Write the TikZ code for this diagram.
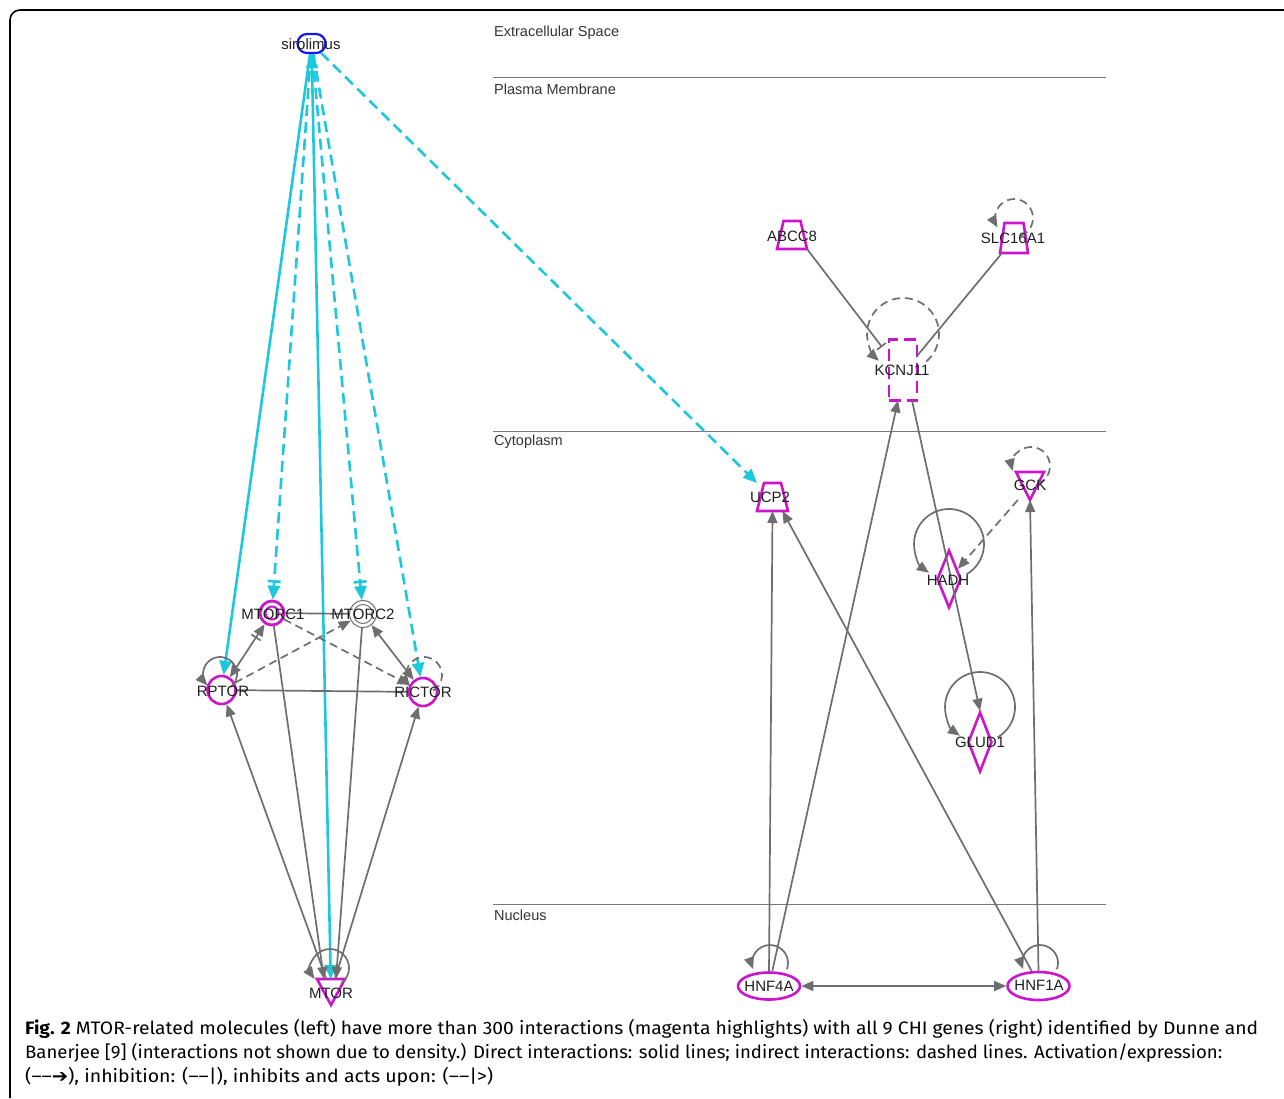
\documentclass[tikz,border=0pt]{standalone}
\usepackage{fontspec}
\usepackage{graphicx}
\setmainfont{Liberation Sans}
\newfontfamily\capfont{Fira Sans}
\newfontfamily\symfont{DejaVu Sans}
\usetikzlibrary{arrows.meta,shapes.geometric,shapes.misc}
\definecolor{magc}{RGB}{204,20,204}
\definecolor{cyanc}{RGB}{30,200,220}
\definecolor{edgegray}{RGB}{110,110,110}
\definecolor{sirblue}{RGB}{20,20,230}
\definecolor{compgray}{RGB}{120,120,120}
\definecolor{captext}{RGB}{35,31,32}
\newsavebox\capboxA
\newsavebox\capboxB
\newsavebox\capboxC
\newlength\capw
\newcommand\capA{\textbf{Fig. 2} MTOR-related molecules (left) have more than 300 interactions (magenta highlights) with all 9 CHI genes (right) identified by Dunne and}
\newcommand\capB{Banerjee [9] (interactions not shown due to density.) Direct interactions: solid lines; indirect interactions: dashed lines. Activation/expression:}
\newcommand\capC{(––{\symfont\bfseries ➔}), inhibition: (––|), inhibits and acts upon: (––|>)}
\tikzset{
  lbl/.style={font=\fontsize{15}{17}\selectfont, text=black!88, inner sep=0},
  comp/.style={font=\fontsize{14.5}{16}\selectfont, text=black!80, inner sep=0, anchor=west},
  gr/.style={draw=edgegray, line width=1.7pt},
  cy/.style={draw=cyanc, line width=2.6pt},
  mg/.style={draw=magc, line width=2.6pt},
  shp/.style={rectangle, inner sep=0, outer sep=0},
  gdash/.style={dash pattern=on 8pt off 5pt},
  cdash/.style={dash pattern=on 11pt off 6pt},
  ga/.style={-{Triangle[length=12pt,width=10pt]}},
  gba/.style={{Triangle[length=12pt,width=10pt]}-{Triangle[length=12pt,width=10pt]}},
  gia/.style={{Triangle[length=12pt,width=10pt]}-{Bar[width=11pt,sep=3pt]Triangle[length=12pt,width=10pt]}},
  gbar/.style={-{Bar[width=11pt]}},
  ca/.style={-{Triangle[length=14pt,width=12pt]}},
  cba/.style={{Triangle[length=14pt,width=12pt]}-{Triangle[length=14pt,width=12pt]}},
  cia/.style={-{Bar[width=13pt,sep=3pt]Triangle[length=14pt,width=12pt]}},
  capt/.style={anchor=base west, inner sep=0, text=captext}
}
\begin{document}
\sbox\capboxA{\capfont\fontsize{18}{22}\selectfont\capA}%
\setlength\capw{\wd\capboxA}%
\pgfmathsetmacro\capscA{1233/\capw}%
\sbox\capboxB{\capfont\fontsize{18}{22}\selectfont\capB}%
\setlength\capw{\wd\capboxB}%
\pgfmathsetmacro\capscB{1197/\capw}%
\sbox\capboxC{\capfont\fontsize{18}{22}\selectfont\capC}%
\setlength\capw{\wd\capboxC}%
\pgfmathsetmacro\capscC{468/\capw}%
\begin{tikzpicture}[x=1pt,y=-1pt]
\useasboundingbox (0,0) rectangle (1284,1098);

% frame
\draw[line width=1.6pt, rounded corners=10pt] (1284,10) -- (10,10) -- (10,1098);

% compartments
\draw[compgray, line width=1pt] (493,77) -- (1106,77);
\draw[compgray, line width=1pt] (493,431) -- (1106,431);
\draw[compgray, line width=1pt] (493,904) -- (1106,904);
\node[comp] (cExtra) at (494,33) {Extracellular Space};
\node[comp] (cPlasma) at (494,89) {Plasma Membrane};
\node[comp] (cCyto) at (494,442) {Cytoplasm};
\node[comp] (cNuc) at (494,915) {Nucleus};

% shape nodes
\node[rounded rectangle, draw=sirblue, line width=2.2pt, minimum width=28pt, minimum height=19pt, inner sep=0] (sir) at (311.5,43.5) {};
\node[circle, draw=magc, line width=2.8pt, minimum size=24pt, inner sep=0] (mtorc1) at (272,613) {};
\node[circle, draw=magc, line width=2pt, minimum size=13pt, inner sep=0] (mtorc1i) at (272,613) {};
\node[circle, draw=edgegray, line width=1pt, minimum size=27pt, inner sep=0] (mtorc2) at (363,614) {};
\node[circle, draw=edgegray, line width=1pt, minimum size=19pt, inner sep=0] (mtorc2i) at (363,614) {};
\node[circle, mg, minimum size=28pt, inner sep=0] (rptor) at (221.5,690) {};
\node[circle, mg, minimum size=28pt, inner sep=0] (rictor) at (423,692) {};
\node[shp, minimum width=28pt, minimum height=26pt] (mtor) at (331,992) {};
\draw[mg] (mtor.north west) -- (mtor.north east) -- (mtor.south) -- cycle;

\node[shp, minimum width=30pt, minimum height=28pt] (abcc8) at (792,235) {};
\draw[mg] (abcc8.south west) -- (abcc8.south east) -- ([xshift=-6.5pt]abcc8.north east) -- ([xshift=6.5pt]abcc8.north west) -- cycle;
\node[shp, minimum width=28pt, minimum height=30pt] (slc) at (1014,238) {};
\draw[mg] (slc.south west) -- (slc.south east) -- ([xshift=-4.5pt]slc.north east) -- ([xshift=4.5pt]slc.north west) -- cycle;
\node[shp, draw=magc, line width=2.6pt, dash pattern=on 12pt off 6pt, minimum width=28pt, minimum height=61pt] (kcnj11) at (903,370) {};
\node[shp, minimum width=31pt, minimum height=28pt] (ucp2) at (772.5,497) {};
\draw[mg] (ucp2.south west) -- (ucp2.south east) -- ([xshift=-7pt]ucp2.north east) -- ([xshift=7pt]ucp2.north west) -- cycle;
\node[shp, minimum width=28pt, minimum height=28pt] (gck) at (1030,486) {};
\draw[mg] (gck.north west) -- (gck.north east) -- (gck.south) -- cycle;
\node[diamond, mg, aspect=0.41, minimum width=24pt, minimum height=58pt, inner sep=0] (hadh) at (949,579) {};
\node[diamond, mg, aspect=0.4, minimum width=24pt, minimum height=60pt, inner sep=0] (glud1) at (980,742) {};
\node[ellipse, mg, minimum width=62pt, minimum height=27pt, inner sep=0] (hnf4a) at (769,986) {};
\node[ellipse, mg, minimum width=62pt, minimum height=28pt, inner sep=0] (hnf1a) at (1038.5,986) {};

% cyan edges from sirolimus
\draw[cy, ca] (sir) -- (rptor);
\draw[cy, cdash, cia] (sir) -- (mtorc1);
\draw[cy, cba] (sir) -- (mtor);
\draw[cy, cdash, cia] (sir) -- (mtorc2);
\draw[cy, cdash, ca] (sir) -- (rictor);
\draw[cy, cdash, ca] (sir) -- (ucp2.north west);

% gray edges left cluster
\draw[gr] (mtorc1) -- (mtorc2);
\draw[gr, gia] (rptor) -- (mtorc1);
\draw[gr, gdash, ga] (rptor) -- (mtorc2);
\draw[gr, gdash, ga] (mtorc1) -- (rictor);
\draw[gr, gba] (mtorc2) -- (rictor);
\draw[gr] (rptor) -- (rictor);
\draw[gr, ga] (mtor) -- (rptor);
\draw[gr, ga] (mtor) -- (rictor);
\draw[gr, ga] (mtorc1) -- ([xshift=-7pt]mtor.north);
\draw[gr, ga] (mtorc2) -- ([xshift=5pt]mtor.north);

% self loops left
\draw[gr, ga] ([shift={(50:17)}]220,674) arc[start angle=50, end angle=-222, radius=17];
\draw[gr, gdash, ga] ([shift={(60:18)}]424,675) arc[start angle=60, end angle=-220, radius=18];
\draw[gr, ga] ([shift={(55:19)}]330,968) arc[start angle=55, end angle=-215, radius=19];

% right side edges
\draw[gr, gbar] (abcc8.south east) -- ([shift={(-7,-23)}]kcnj11.west);
\draw[gr] ([xshift=2pt]slc.south west) -- ([shift={(0,-14)}]kcnj11.east);
\draw[gr, ga] (hnf4a) -- ([xshift=-5pt]kcnj11.south);
\draw[gr, ga] ([xshift=9pt]kcnj11.south) -- (glud1.north);
\draw[gr, gdash, ga] (gck) -- (hadh);
\draw[gr, ga] (hnf1a.north) -- (gck.south);
\draw[gr, ga] (hnf4a.north) -- (ucp2.south);
\draw[gr, ga] ([xshift=-7pt]hnf1a.north) -- ([xshift=10pt]ucp2.south);
\draw[gr, gba] (hnf4a) -- (hnf1a);

% self loops right
\draw[gr, gdash, ga] ([shift={(70:19)}]1014,218) arc[start angle=70, end angle=-210, radius=19];
\draw[gr, gdash, ga] ([shift={(50:36)}]903,334) arc[start angle=50, end angle=-228, radius=36];
\draw[gr, gdash, ga] ([shift={(70:19)}]1031,466) arc[start angle=70, end angle=-195, radius=19];
\draw[gr, ga] ([shift={(60:35)}]949,544) arc[start angle=60, end angle=-235, radius=35];
\draw[gr, ga] ([shift={(60:35)}]980,707) arc[start angle=60, end angle=-235, radius=35];
\draw[gr, ga] ([shift={(20:18)}]770,963) arc[start angle=20, end angle=-200, radius=18];
\draw[gr, ga] ([shift={(20:18)}]1040,963) arc[start angle=20, end angle=-200, radius=18];

% labels
\node[lbl] (tSir) at (311,44) {sirolimus};
\node[lbl] (tMTORC1) at (273,614) {MTORC1};
\node[lbl] (tMTORC2) at (363,614) {MTORC2};
\node[lbl] (tRPTOR) at (223,691) {RPTOR};
\node[lbl] (tRICTOR) at (423,692) {RICTOR};
\node[lbl] (tMTOR) at (331,993) {MTOR};
\node[lbl] (tABCC8) at (792,236) {ABCC8};
\node[lbl] (tSLC) at (1013,238) {SLC16A1};
\node[lbl] (tKCNJ11) at (902,370) {KCNJ11};
\node[lbl] (tUCP2) at (770,497) {UCP2};
\node[lbl] (tGCK) at (1030,485) {GCK};
\node[lbl] (tHADH) at (948,580) {HADH};
\node[lbl] (tGLUD1) at (980,742) {GLUD1};
\node[lbl] (tHNF4A) at (769,986) {HNF4A};
\node[lbl] (tHNF1A) at (1039,985) {HNF1A};

% caption
\node[capt] (cap1) at (25,1034) {\scalebox{\capscA}[1]{\usebox\capboxA}};
\node[capt] (cap2) at (25,1058) {\scalebox{\capscB}[1]{\usebox\capboxB}};
\node[capt] (cap3) at (25,1082) {\scalebox{\capscC}[1]{\usebox\capboxC}};
\end{tikzpicture}
\end{document}
